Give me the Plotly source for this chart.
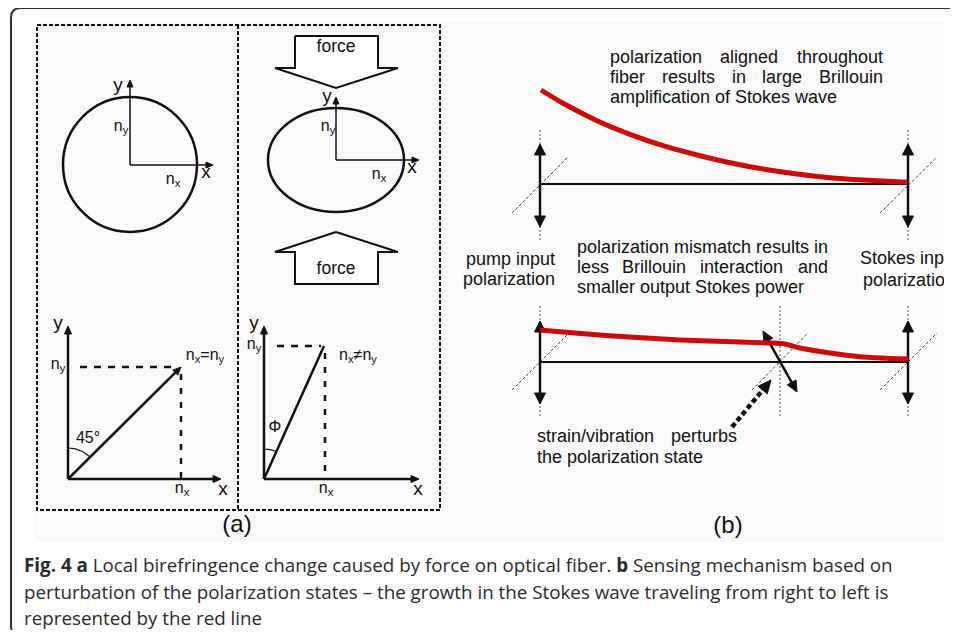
import math
import plotly.graph_objects as go

# Page is 958x638; the browser body has an 8px margin, so the figure is offset by 8px
# and sized to avoid page scrolling.
PAGE_W, PAGE_H = 958, 638
OFF = 8
W, H = PAGE_W - OFF, PAGE_H - 2 * OFF
IX0, IX1, IY0, IY1 = 35, 944, 22, 542   # figure-image region in page pixels

# ---------------- data ----------------
# Panel (b): red Stokes-wave power curves along the fiber
aligned_x = [541, 563, 597, 630, 663, 697, 730, 763, 797, 830, 863, 897, 907]
aligned_y = [90, 103.3, 120.7, 134.3, 145.7, 155, 162.7, 169, 174, 177.7, 180, 181.7, 182]
mismatch_x = [540, 613, 680, 740, 770, 785, 800, 830, 863, 890, 908]
mismatch_y = [330, 336, 340, 342, 343, 344, 348, 353, 357, 358.5, 359]

# Panel (a): birefringence vectors (tip of n-vector)
vec_equal_tip = [181, 367]
vec_unequal_tip = [324, 346]

caption_lines = [
    "<b>Fig. 4 a</b> Local birefringence change caused by force on optical fiber. <b>b</b> Sensing mechanism based on",
    "perturbation of the polarization states \u2013 the growth in the Stokes wave traveling from right to left is",
    "represented by the red line",
]

# ---------------- figure ----------------
fig = go.Figure()
BLACK = "#111111"
FONT = "Liberation Sans, Arial, sans-serif"


def line(xs, ys, width=2.0, color=BLACK, dash=None):
    fig.add_trace(go.Scatter(x=xs, y=ys, mode="lines", hoverinfo="skip", showlegend=False,
                             line=dict(color=color, width=width, dash=dash)))


def head(tip, tail, L=10, Wd=10, color=BLACK):
    dx, dy = tip[0] - tail[0], tip[1] - tail[1]
    n = math.hypot(dx, dy)
    ux, uy = dx / n, dy / n
    bx, by = tip[0] - ux * L, tip[1] - uy * L
    px_, py_ = -uy, ux
    xs = [tip[0], bx + px_ * Wd / 2, bx - px_ * Wd / 2, tip[0]]
    ys = [tip[1], by + py_ * Wd / 2, by - py_ * Wd / 2, tip[1]]
    fig.add_trace(go.Scatter(x=xs, y=ys, mode="lines", fill="toself", fillcolor=color,
                             line=dict(color=color, width=1), hoverinfo="skip", showlegend=False))
    return bx + ux * 2, by + uy * 2


def arrow(tail, tip, width=2.0, L=8, Wd=7, dash=None, color=BLACK):
    bx, by = head(tip, tail, L, Wd, color)
    line([tail[0], bx], [tail[1], by], width, color, dash)


def darrow(a, b, width=2.5, L=11, Wd=11):
    ax_, ay_ = head(a, b, L, Wd)
    bx_, by_ = head(b, a, L, Wd)
    line([ax_, bx_], [ay_, by_], width)


def text(x, y, s, size=18, pos="middle center", color=BLACK, font=FONT):
    fig.add_trace(go.Scatter(x=[x], y=[y], mode="text", text=[s], textposition=pos,
                             textfont=dict(family=font, size=size, color=color),
                             hoverinfo="skip", showlegend=False, cliponaxis=True))


# ---- Panel (a) ----
line([37, 440, 440, 37, 37], [25, 25, 510, 510, 25], 2, dash="4px,2px")
line([238, 238], [25, 510], 2, dash="4px,2px")

# circle (unstressed fiber)
fig.add_shape(type="circle", xref="x", yref="y", x0=63, x1=197, y0=97, y1=232,
              line=dict(color=BLACK, width=2.5))
arrow([130, 165], [130, 80], 1.5, L=7, Wd=6)
arrow([130, 165], [213, 165], 1.5, L=7, Wd=6)
text(118, 86, "y", 19)
text(121, 127, "n<sub>y</sub>", 16)
text(206, 173, "x", 19)
text(173, 180, "n<sub>x</sub>", 16)

# ellipse (stressed fiber)
fig.add_shape(type="circle", xref="x", yref="y", x0=268, x1=404, y0=108, y1=212,
              line=dict(color=BLACK, width=2.5))
arrow([336, 160], [336, 97], 1.5, L=7, Wd=6)
arrow([336, 160], [419, 160], 1.5, L=7, Wd=6)
text(327, 97, "y", 19)
text(328, 127, "n<sub>y</sub>", 16)
text(412, 168, "x", 19)
text(379, 175, "n<sub>x</sub>", 16)

# force arrows
fx = [295, 378, 378, 398, 336, 275, 295, 295]
fy = [36, 36, 68, 68, 88, 68, 68, 36]
fig.add_trace(go.Scatter(x=fx, y=fy, mode="lines", fill="toself", fillcolor="white",
                         line=dict(color=BLACK, width=2), hoverinfo="skip", showlegend=False))
bx_ = [336, 398, 378, 378, 295, 295, 275, 336]
by_ = [232, 252, 252, 284, 284, 252, 252, 232]
fig.add_trace(go.Scatter(x=bx_, y=by_, mode="lines", fill="toself", fillcolor="white",
                         line=dict(color=BLACK, width=2), hoverinfo="skip", showlegend=False))
text(336, 48, "force", 17.5)
text(336, 270, "force", 17.5)

# vector diagram, equal indices
o1 = [68, 479]
arrow(o1, [68, 326], 2.5, L=8, Wd=7)
arrow(o1, [221, 479], 2.5, L=8, Wd=7)
arrow(o1, vec_equal_tip, 2.5, L=8, Wd=7)
line([80, vec_equal_tip[0] - 3], [vec_equal_tip[1]] * 2, 2.5, dash="7px,7px")
line([vec_equal_tip[0]] * 2, [vec_equal_tip[1] + 7, 479], 2.5, dash="6px,8px")
ang = math.atan2(vec_equal_tip[0] - o1[0], o1[1] - vec_equal_tip[1])
ts = [ang * k / 12 for k in range(13)]
line([o1[0] + 31 * math.sin(t) for t in ts], [o1[1] - 31 * math.cos(t) for t in ts], 1.2)
text(58, 324, "y", 19)
text(58, 365, "n<sub>y</sub>", 16)
text(205, 356, "n<sub>x</sub>=n<sub>y</sub>", 16)
text(88, 439, "45\u00b0", 16)
text(182, 489, "n<sub>x</sub>", 16)
text(223, 490, "x", 19)

# vector diagram, unequal indices
o2 = [264, 479]
arrow(o2, [264, 326], 2.5, L=8, Wd=7)
arrow(o2, [419, 479], 2.5, L=8, Wd=7)
line([o2[0], vec_unequal_tip[0]], [o2[1], vec_unequal_tip[1]], 2.5)
line([277, vec_unequal_tip[0] - 3], [vec_unequal_tip[1]] * 2, 2.5, dash="7px,7px")
line([vec_unequal_tip[0] + 1] * 2, [vec_unequal_tip[1] + 7, 479], 2.5, dash="6px,8px")
ang2 = math.atan2(vec_unequal_tip[0] - o2[0], o2[1] - vec_unequal_tip[1])
ts = [ang2 * k / 8 for k in range(9)]
line([o2[0] + 30 * math.sin(t) for t in ts], [o2[1] - 30 * math.cos(t) for t in ts], 1.2)
text(254, 324, "y", 19)
text(254, 345, "n<sub>y</sub>", 16)
text(358, 356, "n<sub>x</sub>\u2260n<sub>y</sub>", 16)
text(275, 428, "\u03a6", 16)
text(326, 489, "n<sub>x</sub>", 16)
text(418, 490, "x", 19)

text(237, 526, "(a)", 24)

# ---- Panel (b) ----
GREY = "#555555"
FIB1, FIB2 = 184, 362
line([540, 908], [FIB1, FIB1], 2)
line([540, 908], [FIB2, FIB2], 2)
for xv in [540, 908]:
    line([xv, xv], [130, 242], 1, GREY, "2px,2px")
for xv in [540, 780, 908]:
    line([xv, xv], [306, 418], 1, GREY, "2px,2px")
for (a, b) in [((512, 213), (568, 157)), ((880, 213), (937, 157)),
               ((512, 390), (567, 335)), ((752, 390), (808, 333)), ((880, 390), (937, 333))]:
    line([a[0], b[0]], [a[1], b[1]], 1, "#444444", "3px,2px")
for xv in [540, 908]:
    darrow([xv, 144], [xv, 227])
    darrow([xv, 321], [xv, 404])
darrow([763, 331], [797, 392], 2.5, L=11, Wd=10)
arrow([732, 427], [771, 380], 4.5, L=13, Wd=12, dash="5px,3px")

RED = "#cc0a0a"
fig.add_trace(go.Scatter(x=aligned_x, y=aligned_y, mode="lines", hoverinfo="skip", showlegend=False,
                         line=dict(color=RED, width=5, shape="spline", smoothing=0.8)))
fig.add_trace(go.Scatter(x=mismatch_x, y=mismatch_y, mode="lines", hoverinfo="skip", showlegend=False,
                         line=dict(color=RED, width=5, shape="spline", smoothing=0.6)))

TS = 18
text(610, 58, "polarization", TS, "middle right")
text(720, 58, "aligned", TS, "middle right")
text(883, 58, "throughout", TS, "middle left")
text(610, 78, "fiber", TS, "middle right")
text(662, 78, "results", TS, "middle right")
text(732, 78, "in", TS, "middle right")
text(762, 78, "large", TS, "middle right")
text(883, 78, "Brillouin", TS, "middle left")
text(610, 98, "amplification of Stokes wave", TS, "middle right")

text(577, 248, "polarization mismatch results in", TS, "middle right")
text(577, 268, "less", TS, "middle right")
text(622, 268, "Brillouin", TS, "middle right")
text(700, 268, "interaction", TS, "middle right")
text(828, 268, "and", TS, "middle left")
text(577, 288, "smaller output Stokes power", TS, "middle right")

text(555, 260, "pump input", TS, "middle left")
text(555, 280, "polarization", TS, "middle left")
text(860, 259, "Stokes input", TS, "middle right")
text(863, 281, "polarization", TS, "middle right")

text(537, 437, "strain/vibration", TS, "middle right")
text(737, 437, "perturbs", TS, "middle left")
text(537, 458, "the polarization state", TS, "middle right")

text(728, 527, "(b)", 24)


# ---- page elements (paper coords, from page pixels) ----
def px(x):
    return (x - OFF) / W


def py(y):
    return 1 - (y - OFF) / H


border = (f"M {px(975)},{py(8)} L {px(21)},{py(8)} Q {px(11)},{py(8)} {px(11)},{py(18)} "
          f"L {px(11)},{py(626)} Q {px(11)},{py(636)} {px(21)},{py(636)} L {px(975)},{py(636)}")
fig.add_shape(type="path", xref="paper", yref="paper", path=border,
              line=dict(color="#333333", width=2))

for i, s in enumerate(caption_lines):
    fig.add_annotation(xref="paper", yref="paper", x=px(22), y=py(565 + 26.5 * i),
                       xanchor="left", yanchor="middle", text=s, showarrow=False,
                       font=dict(family="Open Sans, sans-serif", size=18.8, color="#2a2a2a"))

fig.update_layout(
    width=W, height=H, margin=dict(l=0, r=0, t=0, b=0),
    paper_bgcolor="white", plot_bgcolor="#fafafa",
    xaxis=dict(domain=[px(IX0), px(IX1)], range=[IX0, IX1], visible=False, fixedrange=True),
    yaxis=dict(domain=[py(IY1), py(IY0)], range=[IY1, IY0], visible=False, fixedrange=True),
)

fig.write_html("out.html")
